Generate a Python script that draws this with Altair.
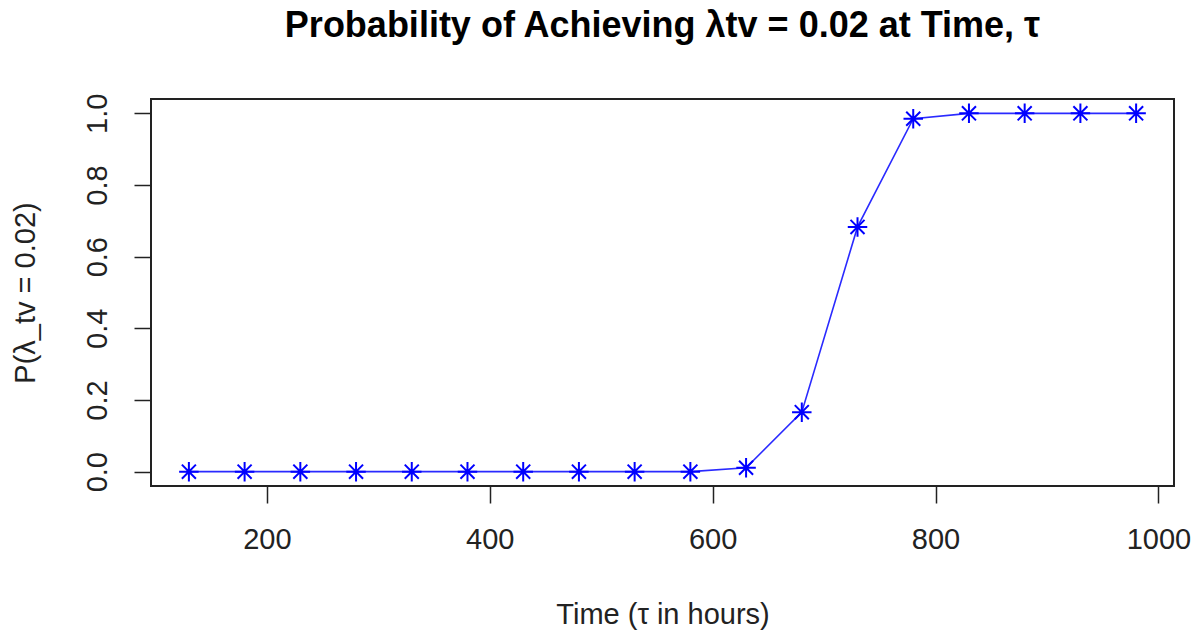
import altair as alt
import pandas as pd

time_hours = [130, 180, 230, 280, 330, 380, 430, 480, 530, 580, 630, 680, 730, 780, 830, 880, 930, 980]
probability = [0.0, 0.0, 0.0, 0.0, 0.0, 0.0, 0.0, 0.0, 0.0, 0.0, 0.011, 0.166, 0.683, 0.985, 1.0, 1.0, 1.0, 1.0]
x_ticks = [200, 400, 600, 800, 1000]
y_ticks = [0.0, 0.2, 0.4, 0.6, 0.8, 1.0]

df = pd.DataFrame({"t": time_hours, "p": probability})

FONT = "Liberation Sans"
STAR = "M-1,0L1,0M0,-1L0,1M-0.72,-0.72L0.72,0.72M-0.72,0.72L0.72,-0.72"

x_enc = alt.X(
    "t:Q",
    scale=alt.Scale(domain=[96, 1014], nice=False, zero=False),
    axis=alt.Axis(
        title="Time (τ in hours)",
        values=x_ticks,
        format="d",
        domain=False,
        grid=False,
        tickSize=17,
        tickWidth=1.5,
        tickColor="#222222",
        labelPadding=22,
        labelFont=FONT,
        labelFontSize=29,
        labelColor="#222222",
        titleFont=FONT,
        titleFontSize=29,
        titleFontWeight="normal",
        titleColor="#222222",
        titleBaseline="alphabetic",
        titleY=137,
    ),
)
y_enc = alt.Y(
    "p:Q",
    scale=alt.Scale(domain=[-0.04, 1.04], nice=False, zero=False),
    axis=alt.Axis(
        title="P(λ_tv = 0.02)",
        values=y_ticks,
        format=".1f",
        domain=False,
        grid=False,
        tickSize=17,
        tickWidth=1.5,
        tickColor="#222222",
        labelAngle=270,
        labelAlign="center",
        labelBaseline="alphabetic",
        labelPadding=28,
        labelFont=FONT,
        labelFontSize=29,
        labelColor="#222222",
        titleFont=FONT,
        titleFontSize=29,
        titleFontWeight="normal",
        titleColor="#222222",
        titleAngle=270,
        titleAlign="center",
        titleBaseline="alphabetic",
        titleX=-117,
    ),
)

line = alt.Chart(df).mark_line(color="#2a2aff", strokeWidth=1.6).encode(x=x_enc, y=y_enc)
points = alt.Chart(df).mark_point(
    shape=STAR, size=380, filled=False, stroke="#0000ff", strokeWidth=2, opacity=1
).encode(x="t:Q", y="p:Q")

chart = (
    alt.layer(line, points)
    .properties(
        width=1023,
        height=387,
        background="white",
        autosize=alt.AutoSizeParams(type="none"),
        padding={"left": 151, "top": 99, "right": 27, "bottom": 147},
        title=alt.TitleParams(
            text="Probability of Achieving λtv = 0.02 at Time, τ",
            font=FONT,
            fontSize=36,
            fontWeight="bold",
            color="#000000",
            anchor="middle",
            frame="group",
            baseline="alphabetic",
            offset=20,
        ),
    )
    .configure_view(stroke="#222222", strokeWidth=2)
)

chart.save("out.html", embed_options={"renderer": "svg", "actions": False})
